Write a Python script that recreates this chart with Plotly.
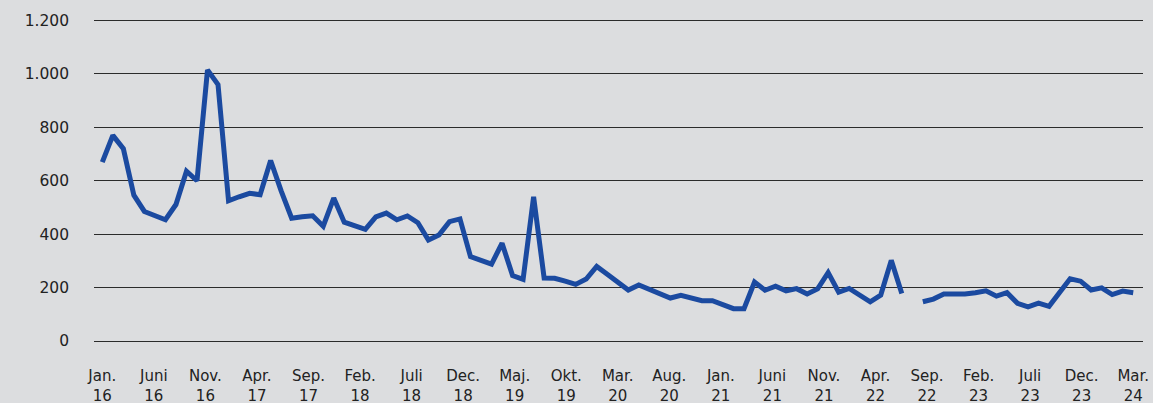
import numpy as np
import plotly.graph_objects as go

# Monthly values Jan 2016 .. Mar 2024 (None = missing month)
values = [
    670, 770, 720, 546, 485, 469, 454, 511, 636, 600,
    1015, 960, 525, 540, 553, 548, 676, 562, 460, 465,
    469, 430, 535, 445, 432, 418, 465, 479, 454, 468,
    443, 378, 397, 447, 457, 316, 302, 288, 366, 245,
    231, 540, 236, 235, 224, 212, 232, 279, 250, 220,
    191, 210, 193, 177, 161, 171, 161, 151, 151, 136,
    121, 121, 221, 190, 205, 188, 196, 176, 195, 256,
    183, 197, 172, 147, 172, 302, 178, None, 147, 157,
    176, 176, 176, 181, 188, 168, 181, 141, 128, 142,
    130, 182, 233, 224, 191, 199, 174, 187, 181,
]

x_months = ["Jan.", "Juni", "Nov.", "Apr.", "Sep.", "Feb.", "Juli", "Dec.", "Maj.", "Okt.",
            "Mar.", "Aug.", "Jan.", "Juni", "Nov.", "Apr.", "Sep.", "Feb.", "Juli", "Dec.", "Mar."]
x_years = ["16", "16", "16", "17", "17", "18", "18", "18", "19", "19",
           "20", "20", "21", "21", "21", "22", "22", "23", "23", "23", "24"]

y_ticks = [0, 200, 400, 600, 800, 1000, 1200]
y_ticktext = ["0", "200", "400", "600", "800", "1.000", "1.200"]

x = list(range(len(values)))
n = len(values)

fig = go.Figure()
fig.add_trace(go.Scatter(
    x=x, y=values, mode="lines", connectgaps=False,
    line=dict(color="#1b4aa0", width=5),
    hoverinfo="skip", showlegend=False,
))

bg = "#dcdddf"
fnt = dict(family="'DejaVu Sans', sans-serif", size=15.5, color="#222222")
xfnt = dict(family="'DejaVu Sans', sans-serif", size=15, color="#222222")

fig.update_layout(
    width=1153, height=403,
    paper_bgcolor=bg, plot_bgcolor=bg,
    margin=dict(l=94, r=10, t=15, b=57),
    font=fnt,
    showlegend=False,
    xaxis=dict(
        range=[-0.79, n - 1 + 0.93],
        tickmode="array",
        tickvals=list(np.linspace(0, n - 1, len(x_months))),
        ticktext=[f"{m}<br>{y}" for m, y in zip(x_months, x_years)],
        showgrid=False, zeroline=False, showline=False,
        ticks="", ticklabelstandoff=19, automargin=False,
        tickfont=xfnt,
    ),
    yaxis=dict(
        range=[-18.7, 1220.6],
        tickmode="array",
        tickvals=y_ticks, ticktext=y_ticktext,
        showgrid=True, gridcolor="#2b2b2b", gridwidth=1.2,
        zeroline=False, showline=False,
        ticks="", ticklabelstandoff=24, automargin=False,
        tickfont=fnt,
    ),
)

fig.write_html(
    "out.html",
    config={"displayModeBar": False},
    post_script="document.body.style.margin='0';document.body.style.overflow='hidden';",
)
